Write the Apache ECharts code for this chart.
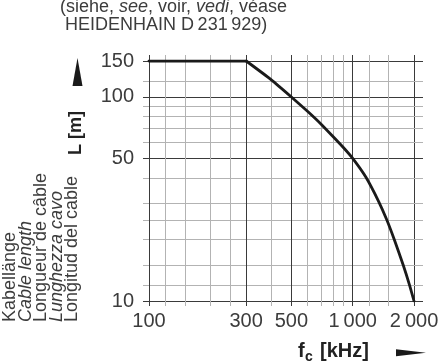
<!DOCTYPE html>
<html>
<head>
<meta charset="utf-8">
<script src="https://cdn.jsdelivr.net/npm/echarts@6/dist/echarts.min.js"></script>
<style>
  html, body { margin: 0; padding: 0; background: #fff; }
  #chart { width: 446px; height: 364px; }
</style>
</head>
<body>
<div id="chart"></div>
<script>
// cable length vs. clock frequency (log-log)
const freqs = [100, 300, 400, 500, 600, 700, 800, 900, 1000, 1160, 1340, 1470, 1600, 1770, 1900, 2000];
const lengths = [150, 150, 121, 100, 85, 73.5, 64, 56.5, 50, 40.5, 30.8, 25, 20, 15, 12, 10];

const xMajor = [100, 300, 500, 1000, 2000];
const xMinor = [120, 150, 200, 250, 400, 600, 700, 800, 900, 1200, 1500];
const xLabels = ['100', '300', '500', '1\u2009000', '2\u2009000'];

const yMajor = [10, 50, 100, 150];
const yMinor = [12, 15, 20, 25, 30, 40, 60, 70, 80, 90, 120];
const yLabels = ['10', '50', '100', '150'];

const FONT = "'Liberation Sans', Arial, Helvetica, sans-serif";
const DARK = '#3a3a3a';
const LIGHT = '#b3b3b3';
const TXT = '#3c3c3c';

function xAxis(position, values, color, tickLen, split, labels) {
  return {
    type: 'log',
    logBase: 10,
    min: 100,
    max: 2000,
    position: position,
    axisLine: { show: false },
    axisTick: { show: true, inside: false, length: tickLen, customValues: values, lineStyle: { color: color, width: 1 } },
    splitLine: { show: split, lineStyle: { color: color, width: 1 } },
    minorTick: { show: false },
    axisLabel: labels ? {
      customValues: xMajor,
      margin: 10,
      fontFamily: FONT,
      fontSize: 20,
      color: TXT,
      formatter: (v) => xLabels[xMajor.indexOf(Math.round(v))]
    } : { show: false }
  };
}

function yAxis(position, values, color, tickLen, split, labels) {
  return {
    type: 'log',
    logBase: 10,
    min: 10,
    max: 150,
    position: position,
    axisLine: { show: false },
    axisTick: { show: true, inside: false, length: tickLen, customValues: values, lineStyle: { color: color, width: 1 } },
    splitLine: { show: split, lineStyle: { color: color, width: 1 } },
    minorTick: { show: false },
    axisLabel: labels ? {
      customValues: yMajor,
      margin: 15,
      fontFamily: FONT,
      fontSize: 20,
      color: TXT,
      formatter: (v) => yLabels[yMajor.indexOf(Math.round(v))]
    } : { show: false }
  };
}

const chart = echarts.init(document.getElementById('chart'), null, { renderer: 'canvas' });

const txt = (x, y, text, opt) => ({
  type: 'text',
  x: x,
  y: y,
  rotation: opt.rotation || 0,
  style: Object.assign({
    text: text,
    fill: TXT,
    fontFamily: FONT,
    fontSize: 18,
    align: 'left',
    textAlign: 'left',
    verticalAlign: 'middle',
    textVerticalAlign: 'middle'
  }, opt.style || {})
});

const colX = [10, 25.5, 41, 56.5, 72];
const colText = ['Kabellänge', 'Cable length', 'Longueur de câble', 'Lunghezza cavo', 'Longitud del cable'];
const colItalic = [false, true, false, true, false];

const points = freqs.map((f, i) => [f, lengths[i]]);
const lineStyle = { color: '#1a1a1a', width: 2.8, join: 'round', cap: 'round' };

const option = {
  animation: false,
  backgroundColor: '#fff',
  grid: { left: 149, top: 61, width: 265, height: 240, containLabel: false },
  xAxis: [
    xAxis('bottom', xMinor, LIGHT, 5, true, true),
    xAxis('top', xMinor, LIGHT, 6, false, false),
    xAxis('bottom', xMajor, DARK, 5, true, false),
    xAxis('top', xMajor, DARK, 6, false, false)
  ],
  yAxis: [
    yAxis('left', yMinor, LIGHT, 6, true, true),
    yAxis('right', yMinor, LIGHT, 9, false, false),
    yAxis('left', yMajor, DARK, 6, true, false),
    yAxis('right', yMajor, DARK, 9, false, false)
  ],
  series: [
    {
      // flat part up to 300 kHz
      type: 'line',
      data: points.slice(0, 2),
      symbol: 'none',
      z: 10,
      lineStyle: lineStyle
    },
    {
      // falling part from 300 kHz
      type: 'line',
      data: points.slice(1),
      symbol: 'none',
      smooth: 0.2,
      z: 10,
      lineStyle: lineStyle
    }
  ],
  graphic: [
    {
      type: 'text',
      x: 60,
      y: 7,
      style: {
        text: '(siehe, {i|see}, voir, {i|vedi}, véase',
        fill: TXT,
        fontFamily: FONT,
        fontSize: 18,
        align: 'left', textAlign: 'left',
        verticalAlign: 'middle', textVerticalAlign: 'middle',
        rich: { i: { fontStyle: 'italic', fontFamily: FONT, fontSize: 18, fill: TXT } }
      }
    },
    txt(65, 25, 'HEIDENHAIN D\u2009231\u2009929)', {}),
    ...colText.map((t, i) => txt(colX[i], 322, t, {
      rotation: Math.PI / 2,
      style: colItalic[i] ? { fontStyle: 'italic' } : {}
    })),
    txt(76, 133, 'L [m]', {
      rotation: Math.PI / 2,
      style: { fontWeight: 'bold', fontSize: 18, fill: '#222', align: 'center', textAlign: 'center' }
    }),
    {
      type: 'polygon',
      shape: { points: [[72.5, 86], [82.5, 86], [77.5, 58]] },
      style: { fill: '#1a1a1a' }
    },
    txt(298, 351, 'f', { style: { fontWeight: 'bold', fontSize: 20, fill: '#222' } }),
    txt(305, 357, 'c', { style: { fontWeight: 'bold', fontSize: 14, fill: '#222' } }),
    txt(320, 351, '[kHz]', { style: { fontWeight: 'bold', fontSize: 20, fill: '#222' } }),
    {
      type: 'polygon',
      shape: { points: [[396, 349.3], [426, 352.8], [396, 356.3]] },
      style: { fill: '#1a1a1a' }
    }
  ]
};

chart.setOption(option);
</script>
</body>
</html>
